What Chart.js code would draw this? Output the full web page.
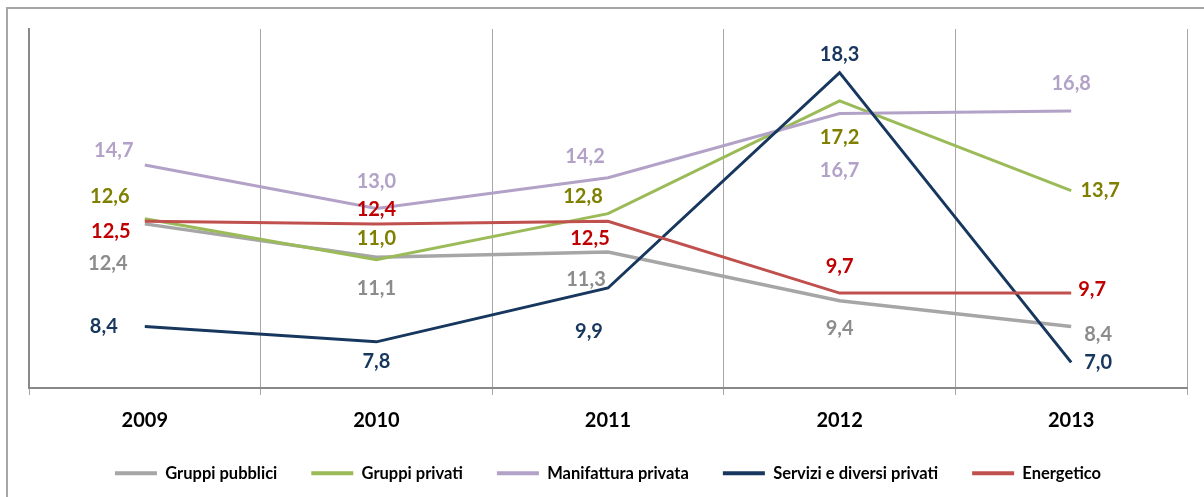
<!DOCTYPE html>
<html>
<head>
<meta charset="utf-8">
<script src="https://cdn.jsdelivr.net/npm/chart.js@4/dist/chart.umd.min.js"></script>
<style>
  html, body { margin: 0; padding: 0; background: #fff; overflow: hidden; width: 1204px; height: 497px; }
  #frame { position: absolute; left: 6px; top: 7px; width: 1300px; height: 600px;
           border-left: 2px solid #a6a6a6; border-top: 2px solid #a6a6a6; }
  #wrap { position: absolute; left: 0; top: 0; width: 1204px; height: 497px; }
</style>
</head>
<body>
<div id="frame"></div>
<div id="wrap"><canvas id="grafico"></canvas></div>
<script>
const anni = ['2009', '2010', '2011', '2012', '2013'];
const gruppiPubblici = [12.4, 11.1, 11.3, 9.4, 8.4];
const gruppiPrivati = [12.6, 11.0, 12.8, 17.2, 13.7];
const manifatturaPrivata = [14.7, 13.0, 14.2, 16.7, 16.8];
const serviziPrivati = [8.4, 7.8, 9.9, 18.3, 7.0];
const energetico = [12.5, 12.4, 12.5, 9.7, 9.7];

const FONT = 'Lato, "Open Sans", sans-serif';

// spostamento delle etichette rispetto al punto (px)
const offsetEtichette = [
  [[-37, 40], [0, 31], [-22, 27], [0, 28], [27, 8]],
  [[-35, -22], [0, -21], [-25, -17], [0, 37], [29, 0]],
  [[-31, -14], [0, -27], [-23, -21], [0, 57], [0, -28]],
  [[-41, 0], [0, 20], [-19, 44], [0, -18], [27, 0]],
  [[-34, 10], [0, -14], [-18, 17], [0, -27], [21, -4]]
];
const coloriEtichette = ['#8c8c8c', '#7f7f00', '#b3a2c7', '#17375e', '#c00000'];

const etichette = {
  id: 'etichette',
  afterDatasetsDraw(chart) {
    const ctx = chart.ctx;
    ctx.save();
    ctx.font = 'bold 20px ' + FONT;
    ctx.textAlign = 'center';
    ctx.textBaseline = 'middle';
    chart.data.datasets.forEach((ds, i) => {
      const meta = chart.getDatasetMeta(i);
      meta.data.forEach((pt, j) => {
        const [dx, dy] = offsetEtichette[i][j];
        ctx.fillStyle = coloriEtichette[i];
        ctx.fillText(ds.data[j].toFixed(1).replace('.', ','), pt.x + dx, pt.y + dy);
      });
    });
    ctx.restore();
  }
};

function serie(label, data, color, order, width) {
  return {
    label, data, order,
    borderColor: color,
    backgroundColor: color,
    borderWidth: width || 3,
    pointRadius: 0,
    tension: 0,
    fill: false
  };
}

new Chart(document.getElementById('grafico'), {
  type: 'line',
  data: {
    labels: anni,
    datasets: [
      serie('Gruppi pubblici', gruppiPubblici, '#a6a6a6', 5, 3.5),
      serie('Gruppi privati', gruppiPrivati, '#9bbb59', 4),
      serie('Manifattura privata', manifatturaPrivata, '#b3a2c7', 3),
      serie('Servizi e diversi privati', serviziPrivati, '#17375e', 2),
      serie('Energetico', energetico, '#c0504d', 1)
    ]
  },
  options: {
    responsive: true,
    maintainAspectRatio: false,
    animation: false,
    layout: { padding: { left: 29, right: 17, top: 29, bottom: 5.5 } },
    scales: {
      x: {
        offset: true,
        afterFit: s => { s.height = 43; },
        grid: { offset: true, color: '#a6a6a6', lineWidth: 1, drawTicks: true, tickLength: 7 },
        border: { display: true, color: '#898989', width: 2 },
        ticks: { color: '#000', padding: 14, font: { family: FONT, size: 20, weight: 'bold' } }
      },
      y: {
        min: 6,
        max: 20,
        ticks: { display: false },
        grid: { display: false, drawTicks: false },
        border: { display: true, color: '#898989', width: 2 }
      }
    },
    plugins: {
      tooltip: { enabled: false },
      legend: {
        position: 'bottom',
        maxHeight: 68,
        labels: {
          boxWidth: 42,
          boxHeight: 4,
          padding: 34,
          color: '#000',
          font: { family: FONT, size: 16.5, weight: 'bold' },
          sort: (a, b) => a.datasetIndex - b.datasetIndex,
          generateLabels(chart) {
            return Chart.defaults.plugins.legend.labels.generateLabels(chart)
              .map(l => ({ ...l, fillStyle: l.strokeStyle, lineWidth: 0 }));
          }
        }
      }
    }
  },
  plugins: [etichette]
});
</script>
</body>
</html>
